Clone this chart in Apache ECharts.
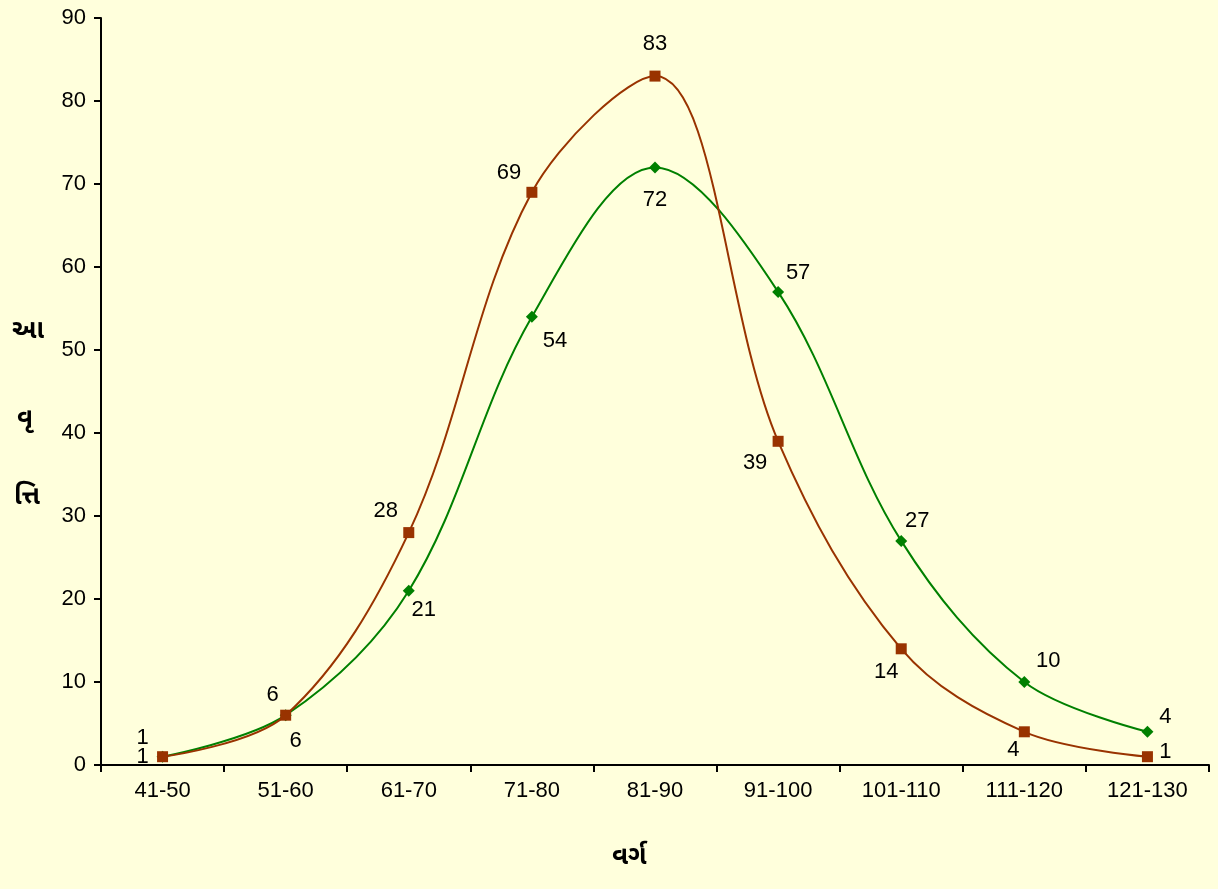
<!DOCTYPE html>
<html>
<head>
<meta charset="utf-8">
<script src="https://cdn.jsdelivr.net/npm/echarts@6/dist/echarts.min.js"></script>
<style>
html,body{margin:0;padding:0;background:#FFFFDC;}
#c{width:1218px;height:889px;}
</style>
</head>
<body>
<div id="c"></div>
<script>
const categories = ['41-50','51-60','61-70','71-80','81-90','91-100','101-110','111-120','121-130'];
const seriesRed = [1, 6, 28, 69, 83, 39, 14, 4, 1];
const seriesGreen = [1, 6, 21, 54, 72, 57, 27, 10, 4];
const yTicks = [0,10,20,30,40,50,60,70,80,90];

// label offsets (style only)
const redOffsets = [[-20,-19],[-13,-20],[-23,-22],[-23,-19],[0,-32],[-23,22],[-15,23],[-11,18],[18,-5]];
const greenOffsets = [[-20,0],[10,26],[15,19],[23,24],[0,33],[20,-19],[16,-20],[24,-21],[18,-15]];

const FONT = '"Liberation Sans", Arial, "Noto Sans Gujarati", sans-serif';

function withLabels(vals, offs){
  return vals.map((v,i)=>({value:v, label:{offset:offs[i]}}));
}

const chart = echarts.init(document.getElementById('c'), null, {renderer:'canvas'});
chart.setOption({
  backgroundColor:'#FFFFDC',
  animation:false,
  grid:{left:101, right:9, top:18, bottom:124, containLabel:false},
  xAxis:{
    type:'category', data:categories, boundaryGap:true,
    axisLine:{lineStyle:{color:'#000', width:2}},
    axisTick:{show:true, length:7, lineStyle:{color:'#000', width:2}, alignWithLabel:false},
    axisLabel:{color:'#000', fontSize:22, fontFamily:FONT, margin:15},
    splitLine:{show:false}
  },
  yAxis:{
    type:'value', min:yTicks[0], max:yTicks[yTicks.length-1], interval:10,
    axisLine:{show:true, lineStyle:{color:'#000', width:2}},
    axisTick:{show:true, length:7, lineStyle:{color:'#000', width:2}},
    axisLabel:{color:'#000', fontSize:22, fontFamily:FONT, margin:15},
    splitLine:{show:false}
  },
  graphic:[
    {type:'text', left:12, top:320, style:{text:'આ', font:'bold 26px "Noto Sans Gujarati", sans-serif', fill:'#000'}},
    {type:'text', left:17, top:408, style:{text:'વૃ', font:'bold 26px "Noto Sans Gujarati", sans-serif', fill:'#000'}},
    {type:'text', left:14, top:486, style:{text:'ત્તિ', font:'bold 26px "Noto Sans Gujarati", sans-serif', fill:'#000'}},
    {type:'text', left:612, top:846, style:{text:'વર્ગ', font:'bold 26px "Noto Sans Gujarati", sans-serif', fill:'#000'}}
  ],
  series:[
    {
      name:'green', type:'line', data:withLabels(seriesGreen, greenOffsets), smooth:0.35,
      symbol:'diamond', symbolSize:12,
      lineStyle:{color:'#008000', width:2}, itemStyle:{color:'#008000'},
      label:{show:true, position:'inside', color:'#000', fontSize:22, fontFamily:FONT},
      z:2
    },
    {
      name:'red', type:'line', data:withLabels(seriesRed, redOffsets), smooth:0.35,
      symbol:'rect', symbolSize:11,
      lineStyle:{color:'#993300', width:2}, itemStyle:{color:'#993300'},
      label:{show:true, position:'inside', color:'#000', fontSize:22, fontFamily:FONT},
      z:3
    }
  ]
});
</script>
</body>
</html>
